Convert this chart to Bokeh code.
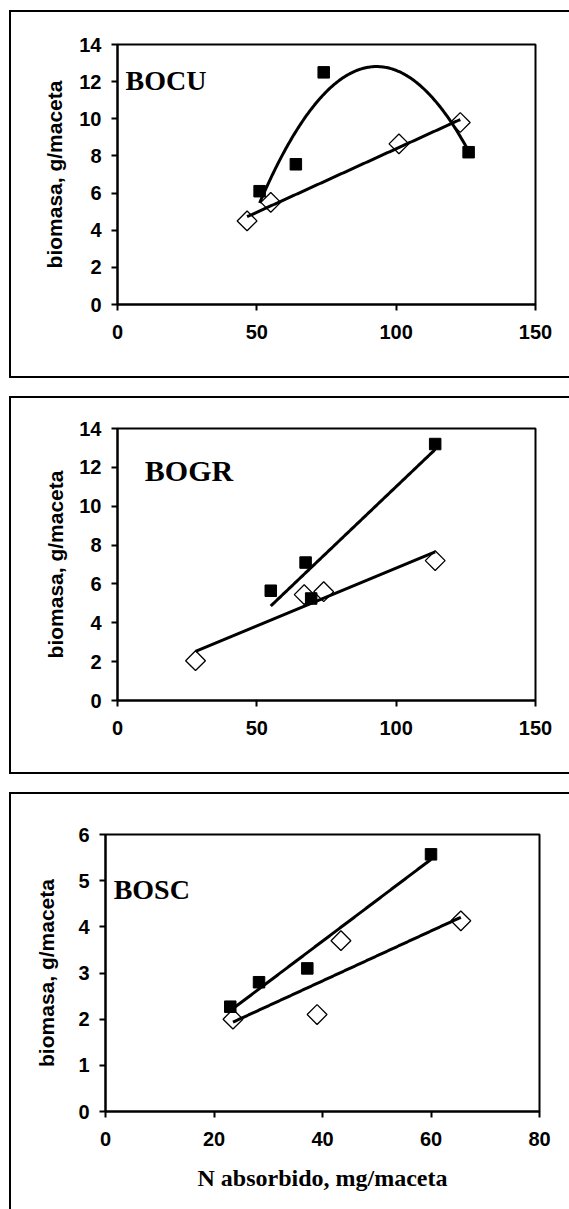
import numpy as np
from bokeh.plotting import figure
from bokeh.models import Range1d, Label, FixedTicker
from bokeh.embed import file_html
from bokeh.resources import INLINE

# ---------------- data ----------------
# BOCU
bocu_sq_x = [51, 64, 74, 126]
bocu_sq_y = [6.1, 7.55, 12.5, 8.2]
bocu_di_x = [46.5, 55, 101, 123]
bocu_di_y = [4.5, 5.5, 8.65, 9.8]
# BOGR
bogr_sq_x = [55, 67.5, 69.5, 114]
bogr_sq_y = [5.65, 7.1, 5.25, 13.2]
bogr_di_x = [28, 67, 74, 114]
bogr_di_y = [2.05, 5.45, 5.6, 7.2]
# BOSC
bosc_sq_x = [23, 28.3, 37.2, 60]
bosc_sq_y = [2.27, 2.8, 3.1, 5.57]
bosc_di_x = [23.5, 39, 43.4, 65.5]
bosc_di_y = [2.0, 2.1, 3.7, 4.13]

x_ticks_a = [0, 50, 100, 150]
y_ticks_a = [0, 2, 4, 6, 8, 10, 12, 14]
x_ticks_c = [0, 20, 40, 60, 80]
y_ticks_c = [0, 1, 2, 3, 4, 5, 6]

y_title = "biomasa, g/maceta"
x_title = "N absorbido, mg/maceta"
panel_names = ["BOCU", "BOGR", "BOSC"]


def trend(p, xs, ys, order):
    c = np.polyfit(xs, ys, order)
    xx = np.linspace(min(xs), max(xs), 200)
    p.line(xx, np.polyval(c, xx), line_color="black", line_width=3)


def panel(name, sqx, sqy, dix, diy, sq_order, xticks, yticks, height,
          borders, label_pos, label_size, shadow, ytitle_standoff, margin, xtitle=None):
    left, right, top, bottom = borders
    p = figure(width=558, height=height, output_backend="svg", toolbar_location=None,
               x_range=Range1d(xticks[0], xticks[-1]), y_range=Range1d(yticks[0], yticks[-1]),
               min_border_left=left, min_border_right=right, min_border_top=top,
               min_border_bottom=bottom, background_fill_color="white",
               border_fill_color="white", margin=margin,
               styles={"box-shadow": shadow})
    p.outline_line_color = "black"
    p.outline_line_width = 2
    p.grid.grid_line_color = None
    p.xaxis.ticker = FixedTicker(ticks=xticks)
    p.yaxis.ticker = FixedTicker(ticks=yticks)
    for ax in (p.xaxis[0], p.yaxis[0]):
        ax.axis_line_width = 2
        ax.axis_line_color = "black"
        ax.major_tick_line_width = 2
        ax.major_tick_line_color = "black"
        ax.major_tick_in = 0
        ax.major_tick_out = 6
        ax.minor_tick_line_color = None
        ax.major_label_text_font = "Liberation Sans"
        ax.major_label_text_font_style = "bold"
        ax.major_label_text_font_size = "20px"
        ax.major_label_text_color = "black"
    p.yaxis.major_label_standoff = 10
    p.xaxis.major_label_standoff = 14
    p.yaxis.axis_label = y_title
    p.yaxis.axis_label_text_font = "Liberation Sans"
    p.yaxis.axis_label_text_font_style = "bold"
    p.yaxis.axis_label_text_font_size = "21px"
    p.yaxis.axis_label_text_color = "black"
    p.yaxis.axis_label_standoff = ytitle_standoff
    if xtitle:
        p.xaxis.axis_label = xtitle
        p.xaxis.axis_label_text_font = "Liberation Serif"
        p.xaxis.axis_label_text_font_style = "bold"
        p.xaxis.axis_label_text_font_size = "24px"
        p.xaxis.axis_label_text_color = "black"
        p.xaxis.axis_label_standoff = 16

    p.scatter(dix, diy, marker="square", angle=np.pi / 4, size=14,
              fill_color="white", line_color="black", line_width=1.3)
    p.scatter(sqx, sqy, marker="square", size=11.5, fill_color="black", line_color="black")
    trend(p, dix, diy, 1)
    trend(p, sqx, sqy, sq_order)

    p.add_layout(Label(x=label_pos[0], y=label_pos[1], text=name,
                       text_font="Liberation Serif", text_font_style="bold",
                       text_font_size=label_size, text_color="black",
                       text_baseline="alphabetic", text_align="left"))
    return p


sh_full = "-2px 0 0 0 #000, 0 -2px 0 0 #000, 0 2px 0 0 #000, -2px -2px 0 0 #000, -2px 2px 0 0 #000"
sh_open = "-2px 0 0 0 #000, 0 -2px 0 0 #000, -2px -2px 0 0 #000"

p1 = panel(panel_names[0], bocu_sq_x, bocu_sq_y, bocu_di_x, bocu_di_y, 2,
           x_ticks_a, y_ticks_a, 364, (106, 34, 32, 72), (2.9, 12.06), "28px", sh_full, 10,
           (12, 0, 0, 11))
p2 = panel(panel_names[1], bogr_sq_x, bogr_sq_y, bogr_di_x, bogr_di_y, 1,
           x_ticks_a, y_ticks_a, 374, (106, 34, 30, 72), (9.8, 11.82), "30px", sh_full, 9,
           (22, 0, 0, 11))
p3 = panel(panel_names[2], bosc_sq_x, bosc_sq_y, bosc_di_x, bosc_di_y, 1,
           x_ticks_c, y_ticks_c, 415, (94, 30, 40, 98), (1.5, 4.81), "28px", sh_open, 17,
           (22, 0, 0, 11), xtitle=x_title)

open("out.html", "w").write(file_html([p1, p2, p3], INLINE))
